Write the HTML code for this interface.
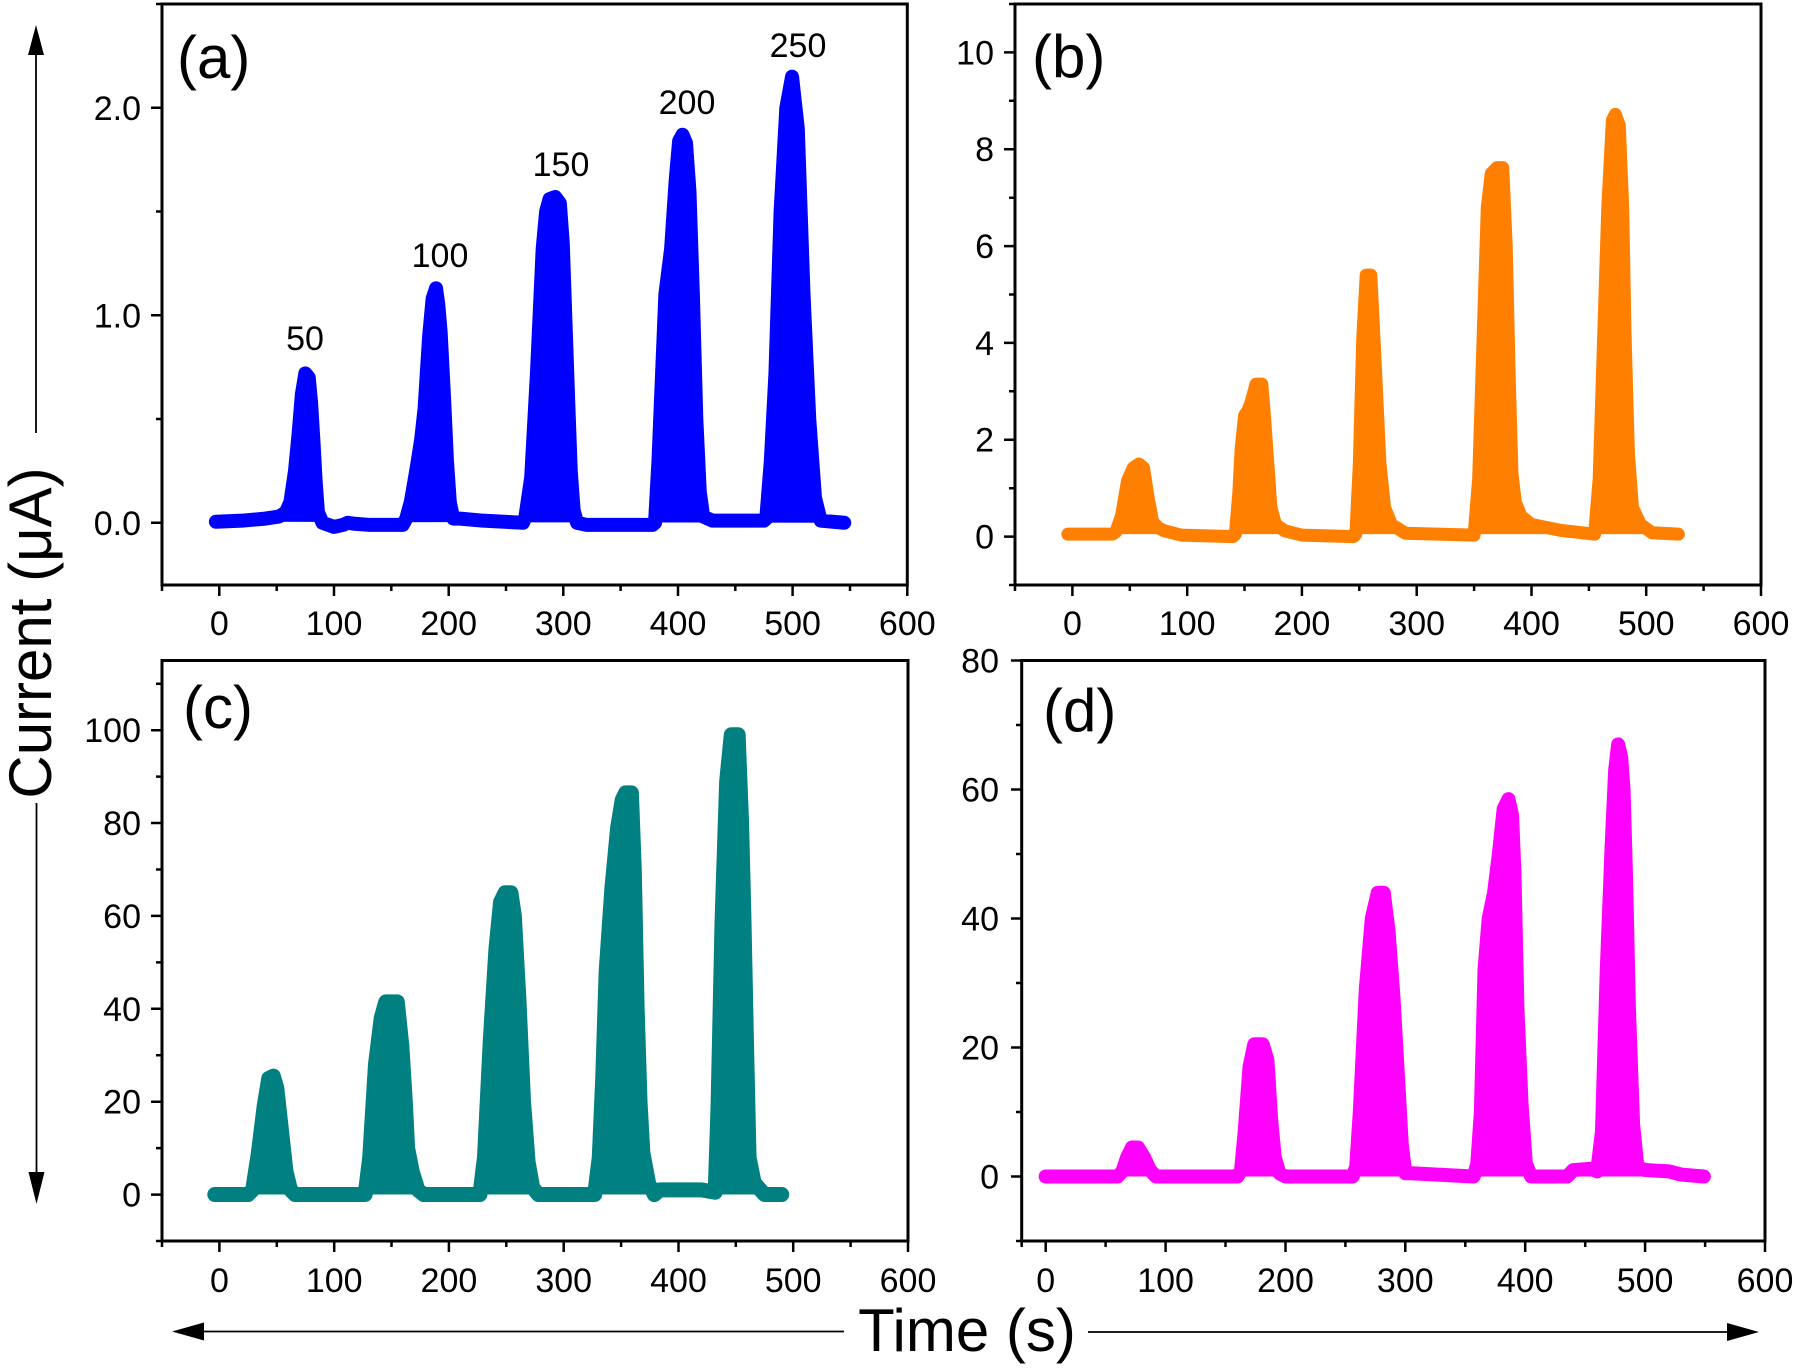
<!DOCTYPE html>
<html>
<head>
<meta charset="utf-8">
<style>
html,body{margin:0;padding:0;background:#fff;}
svg{display:block;}
text{font-family:"Liberation Sans",Arial,sans-serif;fill:#000;}
.tl{font-size:34px;}
.pl{font-size:60px;}
.ax{font-size:60px;}
.frame{fill:none;stroke:#000;stroke-width:3;}
.tick{stroke:#000;stroke-width:2.5;fill:none;}
.ser{stroke-linejoin:round;stroke-linecap:round;}
</style>
</head>
<body>
<svg width="1801" height="1368" viewBox="0 0 1801 1368" xmlns="http://www.w3.org/2000/svg">
<rect x="0" y="0" width="1801" height="1368" fill="#fff"/>

<!-- ================= Panel (a) ================= -->
<g transform="matrix(1.1466 0 0 -207.5 219.33 522.75)">
<path class="ser" vector-effect="non-scaling-stroke" stroke="#0000ff" fill="#0000ff" stroke-width="14" d="M -3 0.005 L 20 0.01 L 40 0.02 L 52 0.03 L 58 0.05 L 62 0.1 L 66 0.25 L 69 0.42 L 72 0.62 L 75 0.72 L 78 0.7 L 80 0.58 L 82 0.4 L 84 0.2 L 86 0.05 L 90 0 L 100 -0.02 L 108 -0.01 L 112 0 L 118 -0.005 L 130 -0.01 L 160 -0.01 L 163 0.02 L 167 0.1 L 172 0.26 L 176 0.4 L 179 0.55 L 183 0.9 L 186 1.08 L 189 1.13 L 191 1.05 L 193 0.92 L 196 0.6 L 198.5 0.3 L 201 0.1 L 204 0.02 L 210 0.02 L 230 0.01 L 265 0 L 267 0.03 L 272 0.22 L 277 0.72 L 282 1.32 L 285 1.5 L 288 1.56 L 293 1.57 L 297 1.54 L 299.5 1.35 L 302 0.95 L 304.5 0.55 L 306.5 0.25 L 309 0.06 L 312 0 L 320 -0.01 L 378 -0.01 L 380 0 L 383 0.3 L 386 0.7 L 389 1.1 L 394 1.32 L 398 1.65 L 401 1.84 L 404 1.87 L 407 1.83 L 410 1.6 L 413 1.1 L 416 0.5 L 419 0.15 L 422 0.03 L 430 0.01 L 475 0.01 L 477 0.02 L 481 0.3 L 485 0.72 L 489.5 1.5 L 494.5 2.0 L 499.5 2.15 L 504.5 1.9 L 509.5 1.1 L 514.5 0.5 L 519.5 0.12 L 524.5 0.01 L 545 0"/>
</g>
<rect class="frame" x="162" y="4" width="745.3" height="581"/>
<path class="tick" d="M219.3 585V596 M334 585V596 M448.7 585V596 M563.3 585V596 M678 585V596 M792.6 585V596 M907.3 585V596 M162 585V591 M276.7 585V591 M391.3 585V591 M506 585V591 M620.6 585V591 M735.3 585V591 M850 585V591 M162 522.75H151 M162 315.25H151 M162 107.75H151 M162 419H156 M162 211.5H156 M162 4H156"/>
<g class="tl" text-anchor="middle">
<text x="219.3" y="635">0</text><text x="334" y="635">100</text><text x="448.7" y="635">200</text><text x="563.3" y="635">300</text><text x="678" y="635">400</text><text x="792.6" y="635">500</text><text x="907.3" y="635">600</text>
</g>
<g class="tl" text-anchor="end">
<text x="141" y="534.75">0.0</text><text x="141" y="327.25">1.0</text><text x="141" y="119.75">2.0</text>
</g>
<g class="tl" text-anchor="middle">
<text x="305" y="350">50</text><text x="440" y="267">100</text><text x="561" y="176">150</text><text x="687" y="114">200</text><text x="798" y="57">250</text>
</g>
<text class="pl" x="177" y="78">(a)</text>

<!-- ================= Panel (b) ================= -->
<g transform="matrix(1.1477 0 0 -48.417 1072.39 536.58)">
<path class="ser" vector-effect="non-scaling-stroke" stroke="#ff8000" fill="#ff8000" stroke-width="13" d="M -4 0.05 L 35 0.05 L 38 0.1 L 43 0.45 L 48 1.15 L 53 1.42 L 58 1.5 L 62 1.42 L 66 0.8 L 70 0.3 L 75 0.18 L 80 0.12 L 95 0.03 L 140 0 L 142 0.05 L 145 0.9 L 147 1.8 L 150 2.5 L 153 2.6 L 156 2.8 L 160 3.15 L 165 3.15 L 167 2.6 L 170 1.6 L 173 0.6 L 177 0.25 L 185 0.12 L 200 0.03 L 245 0 L 247 0.05 L 250 1.5 L 253 4.1 L 256 5.4 L 260 5.4 L 263 4.0 L 266 2.5 L 268 1.5 L 272 0.6 L 278 0.25 L 290 0.07 L 350 0.03 L 354 1.2 L 358 4.2 L 361.5 6.8 L 365 7.5 L 370 7.62 L 375 7.62 L 378 6.0 L 380.5 3.4 L 383 1.3 L 386 0.7 L 391 0.42 L 400 0.25 L 425 0.13 L 455 0.05 L 459 1.2 L 463 4.2 L 466.5 6.8 L 470.5 8.6 L 473 8.72 L 476.5 8.5 L 479.5 6.8 L 481.5 4.2 L 484.5 1.7 L 488 0.6 L 495 0.25 L 505 0.08 L 528 0.05"/>
</g>
<rect class="frame" x="1015" y="4" width="746" height="581"/>
<path class="tick" d="M1072.4 585V596 M1187.2 585V596 M1301.9 585V596 M1416.7 585V596 M1531.5 585V596 M1646.2 585V596 M1761 585V596 M1015 585V591 M1129.8 585V591 M1244.5 585V591 M1359.3 585V591 M1474.1 585V591 M1588.9 585V591 M1703.6 585V591 M1015 536.6H1004 M1015 439.7H1004 M1015 342.9H1004 M1015 246.1H1004 M1015 149.2H1004 M1015 52.4H1004 M1015 585H1009 M1015 488.2H1009 M1015 391.3H1009 M1015 294.5H1009 M1015 197.7H1009 M1015 100.8H1009 M1015 4H1009"/>
<g class="tl" text-anchor="middle">
<text x="1072.4" y="635">0</text><text x="1187.2" y="635">100</text><text x="1301.9" y="635">200</text><text x="1416.7" y="635">300</text><text x="1531.5" y="635">400</text><text x="1646.2" y="635">500</text><text x="1761" y="635">600</text>
</g>
<g class="tl" text-anchor="end">
<text x="994" y="548.6">0</text><text x="994" y="451.7">2</text><text x="994" y="354.9">4</text><text x="994" y="258.1">6</text><text x="994" y="161.2">8</text><text x="994" y="64.4">10</text>
</g>
<text class="pl" x="1032" y="77">(b)</text>

<!-- ================= Panel (c) ================= -->
<g transform="matrix(1.1477 0 0 -4.644 219.38 1194.56)">
<path class="ser" vector-effect="non-scaling-stroke" stroke="#008080" fill="#008080" stroke-width="15" d="M -4 0 L 25 0 L 29 1 L 34 9 L 39 19 L 43 25 L 47 25.5 L 50 23 L 54 14 L 58 5 L 62 1 L 66 0 L 127 0 L 131 8 L 136 28 L 141 38 L 145 41.5 L 155 41.5 L 159 32 L 162 20 L 164 10 L 168 5 L 173 1 L 178 0 L 227 0 L 231 8 L 236 33 L 241 53 L 245 63 L 249 65 L 254 65 L 257 60 L 261 42 L 265 20 L 269 7 L 273 1.5 L 278 0 L 327 0 L 331 8 L 334 25 L 337 48 L 342 66 L 347 79 L 351 85 L 354 86.5 L 359 86.5 L 361.5 70 L 364 40 L 366.5 20 L 369 9 L 374 2.4 L 379 0 L 384 1 L 420 1 L 432 0.5 L 434.5 19 L 438 59 L 442 89 L 446 99 L 452 99 L 455 80 L 457 60 L 459.5 30 L 461.5 8 L 466 2.5 L 475 0 L 490 0"/>
</g>
<rect class="frame" x="162" y="660.5" width="746" height="580.5"/>
<path class="tick" d="M219.4 1241V1252 M334.2 1241V1252 M448.9 1241V1252 M563.7 1241V1252 M678.5 1241V1252 M793.2 1241V1252 M908 1241V1252 M162 1241V1247 M276.8 1241V1247 M391.5 1241V1247 M506.3 1241V1247 M621.1 1241V1247 M735.8 1241V1247 M850.6 1241V1247 M162 1194.6H151 M162 1101.7H151 M162 1008.8H151 M162 915.9H151 M162 823H151 M162 730.2H151 M162 1241H156 M162 1148.1H156 M162 1055.2H156 M162 962.4H156 M162 869.5H156 M162 776.6H156 M162 683.7H156"/>
<g class="tl" text-anchor="middle">
<text x="219.4" y="1292">0</text><text x="334.2" y="1292">100</text><text x="448.9" y="1292">200</text><text x="563.7" y="1292">300</text><text x="678.5" y="1292">400</text><text x="793.2" y="1292">500</text><text x="908" y="1292">600</text>
</g>
<g class="tl" text-anchor="end">
<text x="141" y="1206.6">0</text><text x="141" y="1113.7">20</text><text x="141" y="1020.8">40</text><text x="141" y="927.9">60</text><text x="141" y="835">80</text><text x="141" y="742.2">100</text>
</g>
<text class="pl" x="183" y="728">(c)</text>

<!-- ================= Panel (d) ================= -->
<g transform="matrix(1.1989 0 0 -6.45 1045.68 1176.5)">
<path class="ser" vector-effect="non-scaling-stroke" stroke="#ff00ff" fill="#ff00ff" stroke-width="14" d="M 0 0 L 60 0 L 64 0.8 L 68 3 L 72 4.5 L 77 4.5 L 82 3 L 87 1 L 92 0 L 160 0 L 163 1 L 166 7 L 170 17 L 174 20.5 L 181 20.5 L 185 18 L 188 9 L 191 3 L 195 0.5 L 200 0 L 256 0 L 259 1.5 L 262 10 L 267 29 L 272 40 L 277 44 L 282 44 L 286 38 L 290 28 L 294 15 L 297 5 L 300 0.5 L 305 0.5 L 357 0 L 360 2 L 363 10 L 366 32 L 369.5 40 L 374 44 L 378 50 L 382 57 L 386 58.5 L 389 56 L 391 47 L 393.5 26 L 397 11 L 400.5 2 L 405 0 L 435 0 L 440 1 L 455 1.2 L 460 0.8 L 464 7 L 468 32 L 472 51 L 475 63 L 477.5 67 L 480 65 L 482 60 L 484 47 L 486.5 26 L 490 8 L 493.5 1.5 L 500 1 L 520 0.8 L 530 0.3 L 549 0"/>
</g>
<rect class="frame" x="1021.7" y="660.5" width="743.3" height="580.5"/>
<path class="tick" d="M1045.7 1241V1252 M1165.6 1241V1252 M1285.5 1241V1252 M1405.3 1241V1252 M1525.2 1241V1252 M1645.1 1241V1252 M1765 1241V1252 M1021.7 1241V1247 M1105.6 1241V1247 M1225.5 1241V1247 M1345.4 1241V1247 M1465.3 1241V1247 M1585.2 1241V1247 M1705.1 1241V1247 M1021.7 1176.5H1011 M1021.7 1047.5H1011 M1021.7 918.5H1011 M1021.7 789.5H1011 M1021.7 660.5H1011 M1021.7 1241H1016 M1021.7 1112H1016 M1021.7 983H1016 M1021.7 854H1016 M1021.7 725H1016"/>
<g class="tl" text-anchor="middle">
<text x="1045.7" y="1292">0</text><text x="1165.6" y="1292">100</text><text x="1285.5" y="1292">200</text><text x="1405.3" y="1292">300</text><text x="1525.2" y="1292">400</text><text x="1645.1" y="1292">500</text><text x="1765" y="1292">600</text>
</g>
<g class="tl" text-anchor="end">
<text x="999" y="1188.5">0</text><text x="999" y="1059.5">20</text><text x="999" y="930.5">40</text><text x="999" y="801.5">60</text><text x="999" y="672.5">80</text>
</g>
<text class="pl" x="1043" y="731">(d)</text>

<!-- ================= Axis titles & arrows ================= -->
<text class="ax" text-anchor="middle" transform="translate(51,633) rotate(-90)">Current (μA)</text>
<line x1="36" y1="433" x2="36" y2="52" stroke="#000" stroke-width="1.8"/>
<polygon points="36,25 28,55 44,55" fill="#000"/>
<line x1="36.5" y1="803" x2="36.5" y2="1175" stroke="#000" stroke-width="1.8"/>
<polygon points="36.5,1204 28.5,1172 44.5,1172" fill="#000"/>

<text class="ax" text-anchor="middle" x="967" y="1351">Time (s)</text>
<line x1="844" y1="1331.5" x2="202" y2="1331.5" stroke="#000" stroke-width="1.8"/>
<polygon points="172,1331.5 204,1322.5 204,1340.5" fill="#000"/>
<line x1="1088" y1="1332" x2="1729" y2="1332" stroke="#000" stroke-width="1.8"/>
<polygon points="1759,1332 1727,1323 1727,1341" fill="#000"/>
</svg>
</body>
</html>
